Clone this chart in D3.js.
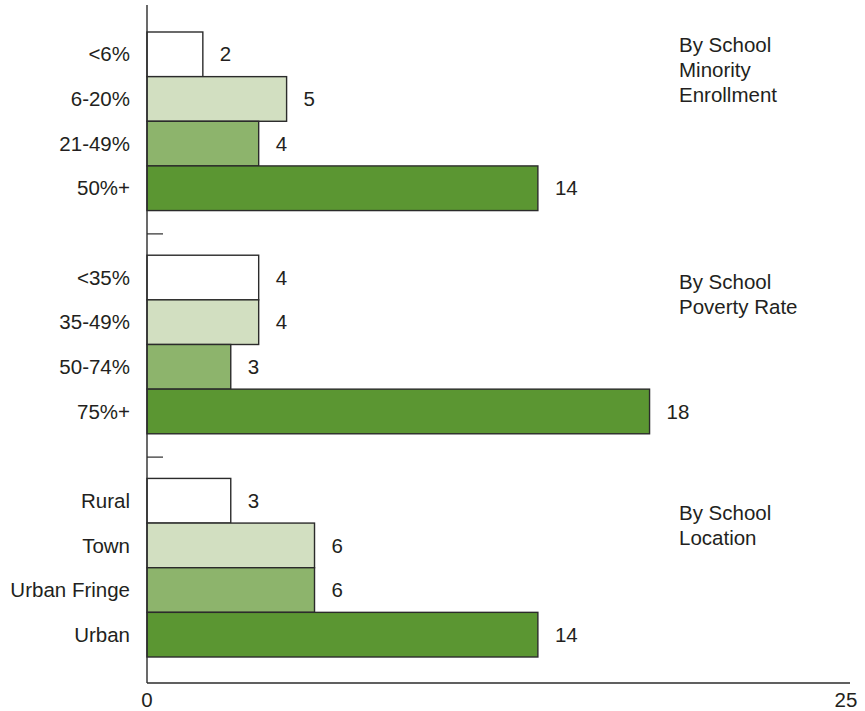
<!DOCTYPE html>
<html>
<head>
<meta charset="utf-8">
<script src="https://cdn.jsdelivr.net/npm/d3@7"></script>
<style>
  html, body { margin: 0; padding: 0; background: #fff; }
  svg { display: block; }
  text { font-family: "Liberation Sans", Arial, Helvetica, sans-serif; fill: #231f20; }
</style>
</head>
<body>
<svg id="chart" width="865" height="711"></svg>
<script>
// ---- data ----
const groupTitles = [
  ["By School", "Minority", "Enrollment"],
  ["By School", "Poverty Rate"],
  ["By School", "Location"]
];
const categories = [
  ["<6%", "6-20%", "21-49%", "50%+"],
  ["<35%", "35-49%", "50-74%", "75%+"],
  ["Rural", "Town", "Urban Fringe", "Urban"]
];
const values = [
  [2, 5, 4, 14],
  [4, 4, 3, 18],
  [3, 6, 6, 14]
];
const xTickLabels = [0, 25];
const levelColors = ["#ffffff", "#d2dfc1", "#8db46c", "#5b9632"];

// ---- layout ----
const svg = d3.select("#chart");
const x0 = 147, x1 = 845;
const x = d3.scaleLinear().domain([0, 25]).range([x0, x1]);

// slots: 4 bars, gap, 4 bars, gap, 4 bars
const slots = [];
categories.forEach((cats, g) => {
  cats.forEach((c, i) => slots.push({ key: g + "-" + i, g, i, label: c, value: values[g][i] }));
  if (g < categories.length - 1) slots.push({ key: "gap" + g, gap: true, g });
});
const y = d3.scaleBand().domain(slots.map(d => d.key)).range([32, 657]).paddingInner(0).paddingOuter(0);

const fs = 20.5;
const bars = slots.filter(d => !d.gap);

// bars
svg.append("g").selectAll("rect").data(bars).join("rect")
  .attr("x", x(0))
  .attr("y", d => y(d.key))
  .attr("width", d => x(d.value) - x(0))
  .attr("height", y.bandwidth())
  .attr("fill", d => levelColors[d.i])
  .attr("stroke", "#2b2b2b")
  .attr("stroke-width", 1.4);

// value labels
svg.append("g").selectAll("text").data(bars).join("text")
  .attr("x", d => x(d.value) + 17)
  .attr("y", d => y(d.key) + y.bandwidth() / 2)
  .attr("dy", "0.35em")
  .attr("font-size", fs)
  .text(d => d.value);

// category labels
svg.append("g").selectAll("text").data(bars).join("text")
  .attr("x", 130)
  .attr("y", d => y(d.key) + y.bandwidth() / 2)
  .attr("dy", "0.35em")
  .attr("text-anchor", "end")
  .attr("font-size", fs)
  .text(d => d.label);

// separator ticks
svg.append("g").selectAll("line").data(slots.filter(d => d.gap)).join("line")
  .attr("x1", x0).attr("x2", x0 + 16)
  .attr("y1", d => y(d.key) + y.bandwidth() / 2 + 1)
  .attr("y2", d => y(d.key) + y.bandwidth() / 2 + 1)
  .attr("stroke", "#2b2b2b").attr("stroke-width", 1.2);

// axes lines
const yAxisBottom = 683;
svg.append("line").attr("x1", x0).attr("x2", x0).attr("y1", 5).attr("y2", yAxisBottom)
  .attr("stroke", "#2b2b2b").attr("stroke-width", 1.4);
svg.append("line").attr("x1", x0).attr("x2", 850).attr("y1", yAxisBottom).attr("y2", yAxisBottom)
  .attr("stroke", "#2b2b2b").attr("stroke-width", 1.4);

// x tick labels
svg.append("g").selectAll("text").data(xTickLabels).join("text")
  .attr("x", d => x(d) + (d === 0 ? 0 : 1))
  .attr("y", 700)
  .attr("dy", "0.35em")
  .attr("text-anchor", "middle")
  .attr("font-size", fs)
  .text(d => d);

// group titles
const titleOffsets = [13, 27, 34];
groupTitles.forEach((lines, g) => {
  const top = y(g + "-0") + titleOffsets[g];
  const t = svg.append("text").attr("x", 679).attr("font-size", fs);
  lines.forEach((ln, k) => {
    t.append("tspan").attr("x", 679).attr("y", top + k * 25).attr("dy", "0.35em").text(ln);
  });
});
</script>
</body>
</html>
